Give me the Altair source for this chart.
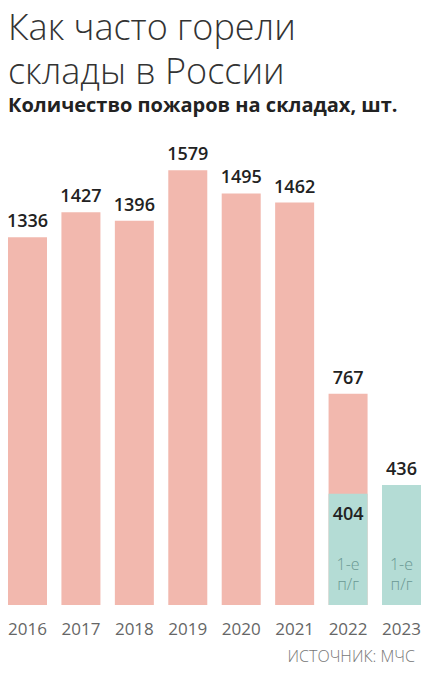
import altair as alt
import pandas as pd

years = ["2016", "2017", "2018", "2019", "2020", "2021", "2022", "2023"]
totals = [1336, 1427, 1396, 1579, 1495, 1462, 767, 436]
first_half = [None, None, None, None, None, None, 404, 436]
half_label = "1-е"
half_label2 = "п/г"
source_text = "ИСТОЧНИК: МЧС"

df = pd.DataFrame({"year": years, "total": totals, "half": first_half})

PINK = "#f2b8ae"
TEAL = "#b4dcd5"
FONT = "Open Sans"

W, H = 413, 468

x = alt.X("year:N", sort=years, title=None,
          scale=alt.Scale(paddingInner=0.27, paddingOuter=0),
          axis=alt.Axis(labelAngle=0, domain=False, ticks=False, labelPadding=16,
                        labelFontSize=17, labelColor="#666666", labelFont=FONT,
                        labelFontWeight=400))
yscale = alt.Scale(domain=[0, 1700], nice=False)

base = alt.Chart(df)

pink = base.transform_filter("datum.half == null || datum.total > datum.half").mark_bar(color=PINK).encode(
    x=x, y=alt.Y("total:Q", scale=yscale, axis=None))
teal = base.transform_filter("datum.half != null").mark_bar(color=TEAL).encode(
    x=x, y=alt.Y("half:Q", scale=yscale, axis=None))

top_labels = base.mark_text(dy=-10, baseline="alphabetic", fontSize=18, font=FONT,
                            fontWeight=600, color="#222222").encode(
    x=x, y=alt.Y("total:Q", scale=yscale), text=alt.Text("total:Q"))

inner_labels = base.transform_filter("datum.half != null && datum.total > datum.half").mark_text(
    dy=12, baseline="top", fontSize=18, font=FONT, fontWeight=600, color="#222222").encode(
    x=x, y=alt.Y("half:Q", scale=yscale), text=alt.Text("half:Q"))

l1 = base.transform_filter("datum.half != null").transform_calculate(
    zero="0", lab=f"'{half_label}'").mark_text(
    dy=-35, baseline="alphabetic", fontSize=16, font=FONT, fontWeight=300, color="#6a9893").encode(
    x=x, y=alt.Y("zero:Q", scale=yscale), text="lab:N")
l2 = base.transform_filter("datum.half != null").transform_calculate(
    zero="0", lab=f"'{half_label2}'").mark_text(
    dy=-15, baseline="alphabetic", fontSize=16, font=FONT, fontWeight=300, color="#6a9893").encode(
    x=x, y=alt.Y("zero:Q", scale=yscale), text="lab:N")

src = alt.Chart(pd.DataFrame({"t": [source_text]})).mark_text(
    align="right", baseline="alphabetic", fontSize=16, font=FONT, fontWeight=300,
    color="#777777").encode(x=alt.value(W - 6), y=alt.value(H + 57), text="t:N")

chart = alt.layer(pink, teal, top_labels, inner_labels, l1, l2, src).properties(
    width=W, height=H,
    background="white",
    autosize=alt.AutoSizeParams(type="none"),
    padding={"left": 0, "top": 129, "right": 5, "bottom": 63},
    title=alt.Title(
        text=["Как часто горели", "склады в России"],
        subtitle="Количество пожаров на складах, шт.",
        anchor="start", frame="group", font=FONT, fontSize=36, fontWeight=300,
        color="#333333", lineHeight=44, subtitleFont=FONT, subtitleFontSize=20,
        subtitleFontWeight=700, subtitleColor="#222222", subtitlePadding=4, offset=20),
).configure_view(stroke=None)

chart.save("out.html", embed_options={"renderer": "svg", "actions": False})
